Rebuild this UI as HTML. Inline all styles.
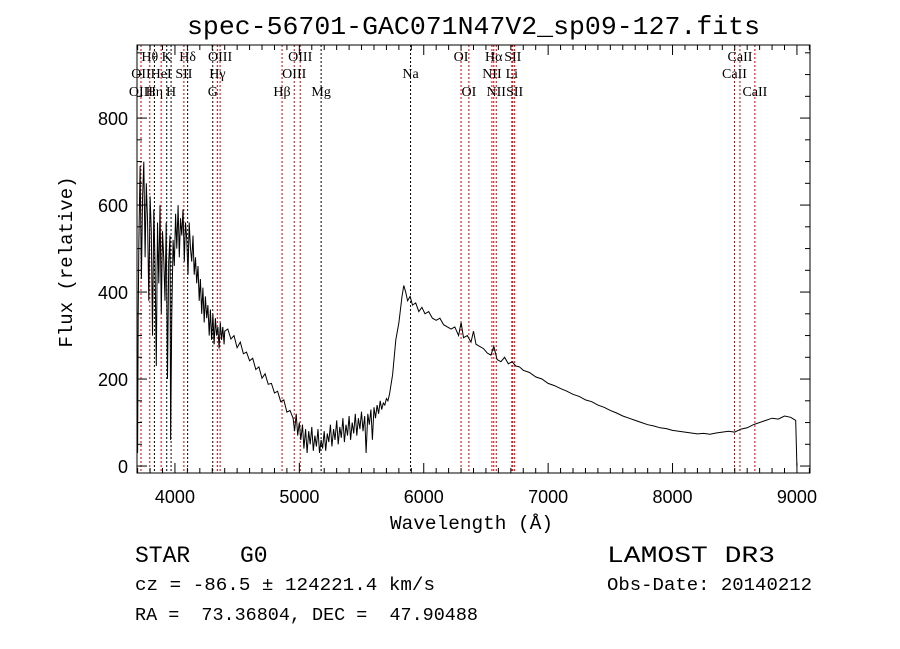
<!DOCTYPE html>
<html><head><meta charset="utf-8"><style>
body{margin:0;background:#fff;width:900px;height:649px;overflow:hidden}
svg{display:block}
.mono{font-family:"Liberation Mono",monospace}
.sans{font-family:"Liberation Sans",sans-serif}
.ser{font-family:"Liberation Serif",serif;font-size:14px}
</style></head><body>
<svg id="chart" width="900" height="649" viewBox="0 0 900 649">
<text class="mono" x="187" y="34" font-size="26" textLength="573" lengthAdjust="spacingAndGlyphs">spec-56701-GAC071N47V2_sp09-127.fits</text>
<g id="lines"></g>
<g id="ticks"></g>
<path id="spec" fill="none" stroke="#000" stroke-width="1"/>
<rect x="137" y="45" width="673" height="428" fill="none" stroke="#000" stroke-width="1"/>
<text class="mono" x="390" y="529" font-size="19" textLength="163" lengthAdjust="spacingAndGlyphs">Wavelength (Å)</text>
<text class="mono" font-size="19" text-anchor="middle" transform="translate(72,262) rotate(-90)">Flux (relative)</text>
<text class="mono" x="135" y="562" font-size="23" xml:space="preserve">STAR</text>
<text class="mono" x="240" y="562" font-size="23">G0</text>
<text class="mono" x="135" y="590" font-size="18" textLength="300" lengthAdjust="spacingAndGlyphs">cz = -86.5 ± 124221.4 km/s</text>
<text class="mono" x="135" y="620" font-size="18" xml:space="preserve" textLength="343" lengthAdjust="spacingAndGlyphs">RA =  73.36804, DEC =  47.90488</text>
<text class="mono" x="607" y="562" font-size="23" textLength="168" lengthAdjust="spacingAndGlyphs">LAMOST DR3</text>
<text class="mono" x="607" y="590" font-size="18" textLength="205" lengthAdjust="spacingAndGlyphs">Obs-Date: 20140212</text>
</svg>
<script>
const waves=[3700,3705,3710,3720,3730,3740,3750,3760,3770,3780,3790,3800,3810,3820,3830,3840,3850,3860,3870,3880,3890,3900,3910,3920,3930,3940,3950,3960,3965,3975,3985,3995,4005,4015,4025,4035,4045,4055,4065,4075,4085,4095,4105,4115,4125,4135,4145,4155,4165,4175,4185,4195,4205,4215,4225,4235,4245,4255,4265,4275,4285,4295,4305,4315,4325,4335,4345,4355,4365,4375,4385,4395,4400,4425,4450,4475,4500,4525,4550,4575,4600,4625,4650,4675,4700,4725,4750,4775,4800,4825,4850,4875,4900,4925,4950,4962,4975,4987,5000,5012,5025,5037,5050,5062,5075,5087,5100,5112,5125,5137,5150,5162,5175,5187,5200,5212,5225,5237,5250,5262,5275,5287,5300,5312,5325,5337,5350,5362,5375,5387,5400,5412,5425,5437,5450,5462,5475,5487,5500,5512,5525,5537,5550,5562,5575,5587,5600,5612,5625,5637,5650,5662,5675,5687,5700,5712,5725,5750,5775,5800,5825,5840,5855,5870,5890,5910,5935,5960,5985,6010,6040,6070,6100,6130,6160,6190,6220,6250,6280,6300,6320,6350,6380,6400,6420,6450,6480,6510,6540,6563,6590,6620,6650,6680,6710,6740,6770,6800,6850,6900,6950,7000,7050,7100,7150,7200,7250,7300,7350,7400,7450,7500,7550,7600,7650,7700,7750,7800,7850,7900,7950,8000,8050,8100,8150,8200,8250,8300,8350,8400,8450,8500,8550,8600,8650,8700,8750,8800,8850,8900,8950,8990,9000];
const flux=[30,350,520,690,430,620,700,480,650,560,380,620,540,300,590,470,230,560,420,600,350,540,480,380,560,200,470,530,60,350,520,460,580,500,600,480,570,530,590,470,560,520,440,560,500,470,530,440,480,420,460,380,430,350,410,330,390,340,370,300,360,290,350,280,340,300,320,270,330,290,320,280,310,315,292,300,272,285,258,262,242,248,222,228,202,212,188,190,168,172,148,152,124,128,110,80,120,70,100,60,95,40,85,30,80,50,90,35,70,45,85,30,60,40,80,35,75,55,95,45,85,60,105,50,90,65,110,55,95,70,115,60,100,75,120,70,110,85,125,80,115,30,120,95,130,60,135,110,140,120,150,130,145,140,155,150,165,210,290,330,390,415,400,380,390,370,375,355,365,350,355,340,335,340,325,320,315,320,300,330,295,300,285,310,280,275,270,260,255,275,245,240,250,235,240,230,228,220,215,205,200,190,185,178,172,165,160,152,148,140,135,128,122,115,110,105,100,95,92,88,86,82,80,78,76,74,75,73,76,78,80,78,85,88,95,100,105,110,108,115,112,105,0];
const lineWaves=[3727,3798,3835,3889,3934,3969,4072,4102,4304,4341,4363,4861,4959,5007,5175,5894,6300,6363,6548,6563,6583,6708,6716,6731,8498,8542,8662];
const lineColors=["r","r","k","r","k","k","r","k","k","r","r","r","r","r","k","k","r","r","r","r","r","r","r","r","r","r","r"];
const labelNames=["Hθ","K","Hδ","OIII","OIII","OII","HeI","SII","Hγ","OIII","OIII","Hη","H","G","Hβ","Mg","OI","Hα","SII","CaII","Na","NII","Li","CaII","OI","NII","SII","CaII"];
const labelWaves=[3798,3934,4102,4363,5007,3727,3889,4072,4341,4959,3727,3835,3969,4304,4861,5175,6300,6563,6716,8542,5894,6548,6708,8498,6363,6583,6731,8662];
const labelRows=[0,0,0,0,0,1,1,1,1,1,2,2,2,2,2,2,0,0,0,0,1,1,1,1,2,2,2,2];
const xTicks=[4000,5000,6000,7000,8000,9000];
const yTicks=[0,200,400,600,800];
const X0=137,X1=810,Y0=45,Y1=473,WMIN=3695,WMAX=9105,FMIN=-16,FMAX=968;
const sx=w=>X0+(w-WMIN)/(WMAX-WMIN)*(X1-X0);
const sy=f=>Y1-(f-FMIN)/(FMAX-FMIN)*(Y1-Y0);
const NS="http://www.w3.org/2000/svg";
function mk(t,a,p){const e=document.createElementNS(NS,t);for(const k in a)e.setAttribute(k,a[k]);p.appendChild(e);return e;}
const L=document.getElementById('lines');
lineWaves.forEach((w,i)=>{const e=mk('line',{x1:sx(w),x2:sx(w),y1:Y0,y2:Y1,stroke:lineColors[i]=="r"?"#c00":"#000","stroke-width":1,"stroke-dasharray":"2,2"},L);

});
const rowY=[61,78,96];
labelNames.forEach((n,i)=>{const e=mk('text',{x:sx(labelWaves[i]),y:rowY[labelRows[i]],"text-anchor":"middle",class:"ser"},L);e.textContent=n;

});
const T=document.getElementById('ticks');
for(let w=3700;w<=9100;w+=100){const maj=w%1000==0,len=maj?10:5;
mk('line',{x1:sx(w),x2:sx(w),y1:Y1,y2:Y1-len,stroke:"#000"},T);mk('line',{x1:sx(w),x2:sx(w),y1:Y0,y2:Y0+len,stroke:"#000"},T);}
for(let f=0;f<=950;f+=50){const maj=f%200==0,len=maj?10:5;
mk('line',{x1:X0,x2:X0+len,y1:sy(f),y2:sy(f),stroke:"#000"},T);mk('line',{x1:X1,x2:X1-len,y1:sy(f),y2:sy(f),stroke:"#000"},T);}
xTicks.forEach(v=>{const e=mk('text',{x:sx(v),y:503,"text-anchor":"middle",class:"sans","font-size":18},T);e.textContent=v;

});
yTicks.forEach(v=>{const e=mk('text',{x:128,y:sy(v)+7,"text-anchor":"end",class:"sans","font-size":18},T);e.textContent=v;

});
document.getElementById('spec').setAttribute('d',waves.map((w,i)=>(i?'L':'M')+sx(w).toFixed(1)+','+sy(flux[i]).toFixed(1)).join(''));
</script>
</body></html>
